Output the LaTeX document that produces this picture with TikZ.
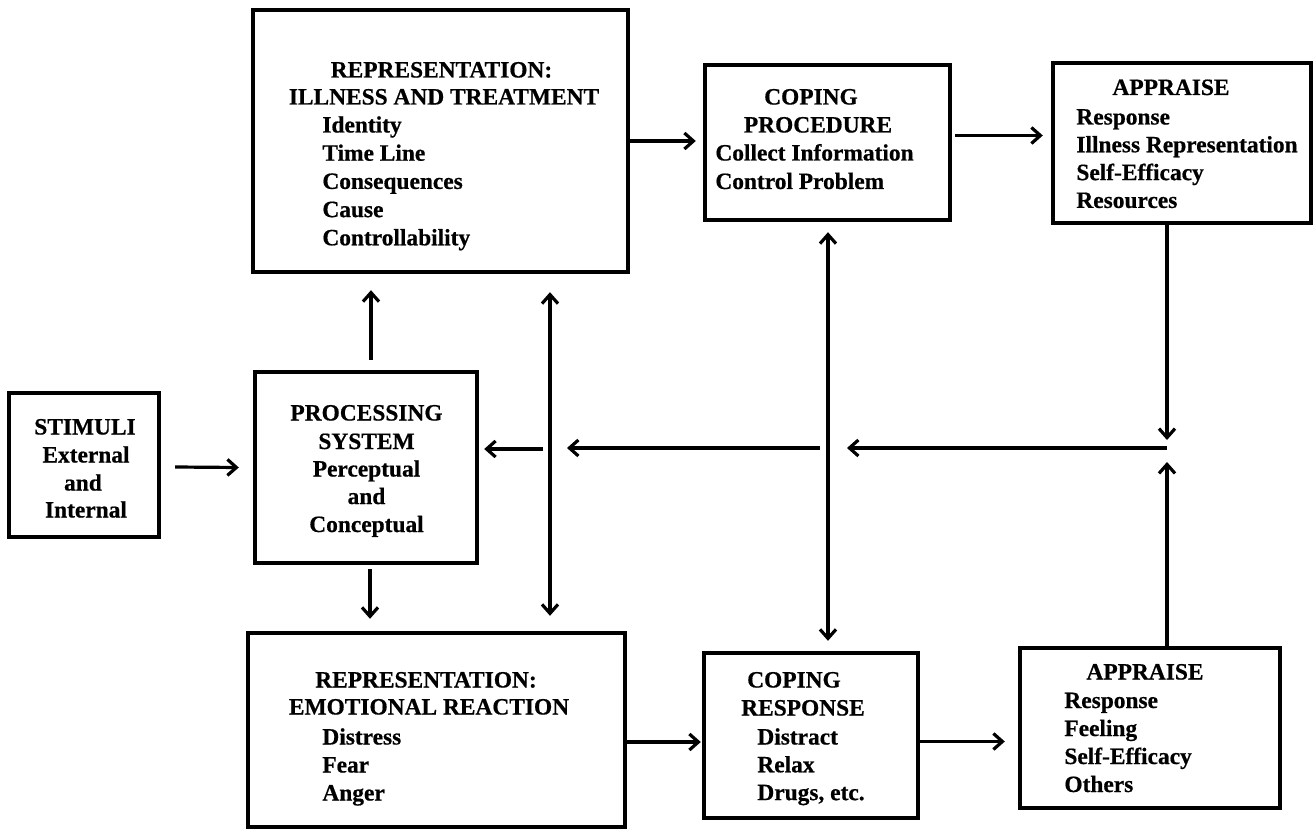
\documentclass[tikz,border=0pt]{standalone}
\usepackage{fontspec}
\setmainfont{Liberation Serif}[BoldFeatures={FakeBold=0.6}]
\usetikzlibrary{arrows.meta,calc,fit}
\begin{document}
\begin{tikzpicture}[x=0.5pt,y=-0.5pt,
  box/.style={draw, line width=2.2pt, inner sep=0pt},
  txt/.style={inner sep=0pt, font=\fontsize{11.7}{14}\selectfont\bfseries},
  ttl/.style={txt, anchor=base},
  itm/.style={txt, anchor=base west},
  tip/.tip={Straight Barb[length=4.5pt,width=8pt]},
  arr/.style={line width=1.6pt, -tip},
  darr/.style={line width=1.6pt, tip-tip}]
\useasboundingbox (0,0) rectangle (1313,829);

% boxes
\node[box, fit={(9,393)(159,537)}] (stim) {};
\node[box, fit={(255,372)(477,563)}] (proc) {};
\node[box, fit={(253,10)(628,272)}] (ill) {};
\node[box, fit={(248,633)(625,827)}] (emo) {};
\node[box, fit={(705,65)(950,220)}] (cproc) {};
\node[box, fit={(1053,63)(1311,223)}] (appr1) {};
\node[box, fit={(704,653)(918,818)}] (cresp) {};
\node[box, fit={(1020,648)(1280,808)}] (appr2) {};

% stimuli
\node[ttl] (stim-1) at (85,434.5) {STIMULI};
\node[ttl] (stim-2) at (86,462.5) {External};
\node[ttl] (stim-3) at (83,490.5) {and};
\node[ttl] (stim-4) at (86,517.5) {Internal};

% processing system
\node[ttl] (proc-1) at (366.5,420.5) {PROCESSING};
\node[ttl] (proc-2) at (366.5,449) {SYSTEM};
\node[ttl] (proc-3) at (366.5,476.5) {Perceptual};
\node[ttl] (proc-4) at (366.5,504) {and};
\node[ttl] (proc-5) at (366.5,532) {Conceptual};

% illness and treatment
\node[ttl] (ill-1) at (441.5,77.5) {REPRESENTATION:};
\node[ttl] (ill-2) at (444,104.5) {ILLNESS AND TREATMENT};
\foreach \t [count=\i] in {Identity,Time Line,Consequences,Cause,Controllability}
  \node[itm] (ill-i\i) at (322,{132.5+28.2*(\i-1)}) {\t};

% emotional reaction
\node[ttl] (emo-1) at (426,687.5) {REPRESENTATION:};
\node[ttl] (emo-2) at (429,714.5) {EMOTIONAL REACTION};
\foreach \t [count=\i] in {Distress,Fear,Anger}
  \node[itm] (emo-i\i) at (322,{744.5+28*(\i-1)}) {\t};

% coping procedure
\node[ttl] (cproc-1) at (811,104.5) {COPING};
\node[ttl] (cproc-2) at (818,132.5) {PROCEDURE};
\foreach \t [count=\i] in {Collect Information,Control Problem}
  \node[itm] (cproc-i\i) at (715,{160.5+28.5*(\i-1)}) {\t};

% coping response
\node[ttl] (cresp-1) at (794,687.5) {COPING};
\node[ttl] (cresp-2) at (803,715.5) {RESPONSE};
\foreach \t [count=\i] in {Distract,Relax,{Drugs, etc.}}
  \node[itm] (cresp-i\i) at (757,{744.5+27.8*(\i-1)}) {\t};

% appraisal of the procedure
\node[ttl] (appr1-1) at (1171,95) {APPRAISE};
\foreach \t [count=\i] in {Response,Illness Representation,Self-Efficacy,Resources}
  \node[itm] (appr1-i\i) at (1076,{124.5+27.8*(\i-1)}) {\t};

% appraisal of the response
\node[ttl] (appr2-1) at (1145,679.5) {APPRAISE};
\foreach \t [count=\i] in {Response,Feeling,Self-Efficacy,Others}
  \node[itm] (appr2-i\i) at (1064,{708+28*(\i-1)}) {\t};

% crossing points of the feedback lines
\coordinate (vA) at (550,449);
\coordinate (vB) at (828,448);
\coordinate (junc) at (1167,448);

% connectors
\draw[arr] ($(stim.east)+(14,2)$) -- ($(proc.west)+(-14,0)$);
\draw[arr] ($(proc.north)+(5,-10)$) -- ($(proc.north |- ill.south)+(5,16)$);
\draw[arr] ($(proc.south)+(4,4)$) -- ($(proc.south |- emo.north)+(4,-12)$);
\draw[darr] ($(vA |- ill.south)+(0,18)$) -- ($(vA |- emo.north)+(0,-15)$);
\draw[darr] ($(vB |- cproc.south)+(0,10)$) -- ($(vB |- cresp.north)+(0,-10)$);
\draw[arr] (ill.east) -- ($(ill.east -| cproc.west)+(-7,0)$);
\draw[arr] ($(cproc.east)+(3,-7)$) -- ($(cproc.east -| appr1.west)+(-8,-7)$);
\draw[arr] (appr1.south -| junc) -- ($(junc)+(0,-8)$);
\draw[arr] (appr2.north -| junc) -- ($(junc)+(0,14)$);
\draw[arr] (junc) -- ($(vB)+(19,0)$);
\draw[arr] ($(vB)+(-8,0)$) -- ($(vA)+(17,-1)$);
\draw[arr] ($(vA)+(-7,0)$) -- ($(proc.east |- vA)+(5,0)$);
\draw[arr] ($(emo.east)+(0,12)$) -- ($(emo.east -| cresp.west)+(-1,12)$);
\draw[arr] ($(cresp.east)+(0,6)$) -- ($(cresp.east -| appr2.west)+(-13,6)$);
\end{tikzpicture}
\end{document}
